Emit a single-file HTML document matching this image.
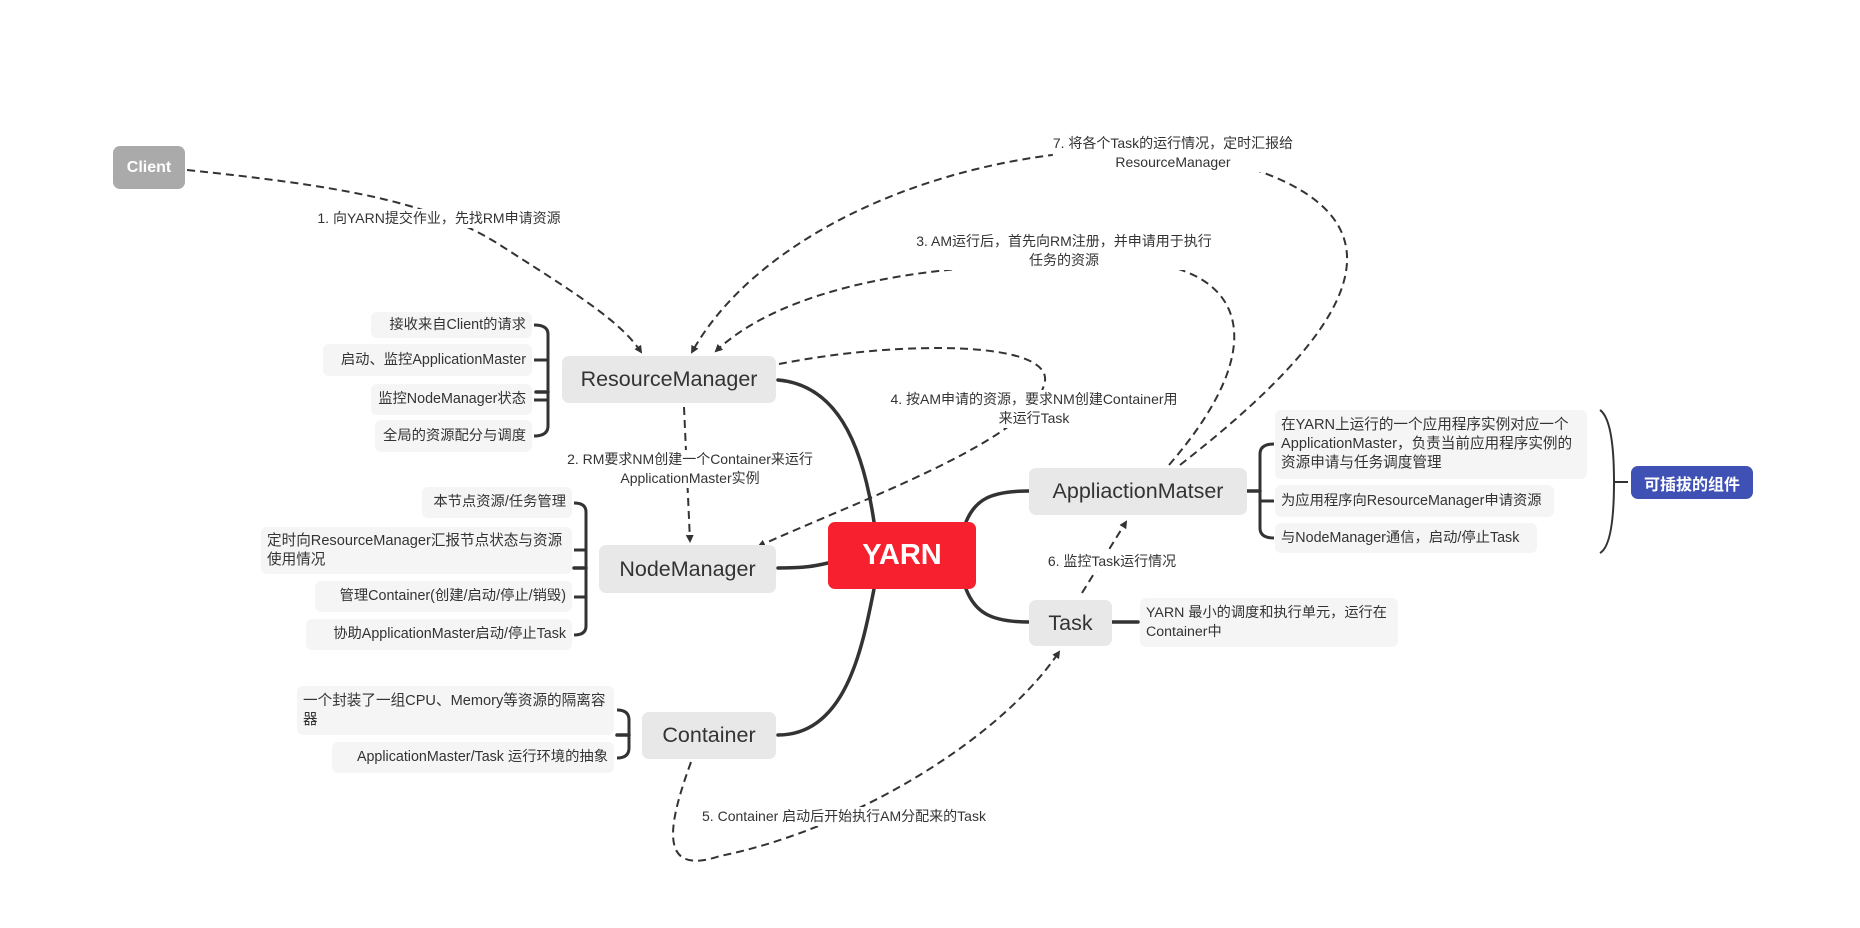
<!DOCTYPE html>
<html><head><meta charset="utf-8"><style>
*{margin:0;padding:0;box-sizing:border-box}
body{width:1860px;height:928px;background:#fff;position:relative;overflow:hidden;font-family:"Liberation Sans","Noto Sans CJK SC",sans-serif;color:#333}
.n{position:absolute;background:#e8e8e8;border-radius:7px;display:flex;align-items:center;justify-content:center;font-size:21.5px;color:#333}
.d{position:absolute;background:#f5f5f5;border-radius:6px;font-size:14.6px;line-height:19px;padding:4px 6px;color:#333;display:flex;align-items:center}
.s{white-space:nowrap;justify-content:flex-end;font-size:14.3px}
.l{position:absolute;font-size:14px;line-height:19px;text-align:center;background:#fff;color:#333;white-space:nowrap;transform:translateX(-50%)}
</style></head><body>
<svg width="1860" height="928" style="position:absolute;left:0;top:0">
<defs><marker id="a" markerWidth="8" markerHeight="8" refX="6" refY="4" orient="auto" markerUnits="userSpaceOnUse"><path d="M0,0 L8,4 L0,8 Z" fill="#333"/></marker></defs>
<g fill="none" stroke="#333" stroke-width="3.5" stroke-linecap="round">
<path d="M778,380 C835,385 862,440 874,522"/>
<path d="M778,568 C805,568 815,566 828,563"/>
<path d="M778,735 C845,735 862,650 874,589"/>
<path d="M1029,491 C990,491 975,500 966,522"/>
<path d="M1029,622 C990,622 975,612 966,589"/>
<path d="M1112,622 L1138,622"/>
<path d="M1247,491 L1260,491"/>
<path d="M548,392 L536,392"/><path d="M586,568 L574,568"/><path d="M629,735 L617,735"/>
</g>
<g fill="none" stroke="#333" stroke-width="3">
<path d="M534,325 Q548,325 548,334 L548,426 Q548,436 534,436"/>
<path d="M534,360 L548,360"/><path d="M534,400 L548,400"/>
<path d="M574,503 Q586,503 586,512 L586,626 Q586,635 574,635"/>
<path d="M574,550 L586,550"/><path d="M574,597 L586,597"/>
<path d="M617,710 Q629,710 629,720 L629,748 Q629,758 617,758"/>
<path d="M1274,444 Q1260,444 1260,454 L1260,528 Q1260,538 1274,538"/>
<path d="M1260,501 L1274,501"/>
</g>
<path d="M1600,410 Q1614,420 1614,482 Q1614,545 1600,553 M1614,482 L1628,482" fill="none" stroke="#333" stroke-width="2"/>
<g fill="none" stroke="#333" stroke-width="2" stroke-dasharray="8,5" marker-end="url(#a)">
<path d="M187,170 C330,185 430,200 500,245 C570,290 620,320 641,352"/>
<path d="M1180,465 C1340,340 1460,200 1175,150 C960,140 760,230 692,352"/>
<path d="M1169,465 C1260,360 1250,290 1175,268 C900,250 770,300 716,351"/>
<path d="M779,364 C900,340 1060,340 1044,385 C1030,440 860,500 759,546"/>
<path d="M684,407 L690,541"/>
<path d="M1082,593 L1126,522"/>
<path d="M691,762 C670,820 655,878 720,856 C850,830 1000,740 1059,652"/>
</g>
</svg>
<div class="n" style="left:113px;top:146px;width:72px;height:43px;background:#aaa;color:#fff;font-weight:bold;font-size:16px">Client</div>
<div class="n" style="left:562px;top:356px;width:214px;height:47px">ResourceManager</div>
<div class="n" style="left:599px;top:545px;width:177px;height:48px">NodeManager</div>
<div class="n" style="left:642px;top:712px;width:134px;height:47px">Container</div>
<div class="n" style="left:828px;top:522px;width:148px;height:67px;background:#f7202e;color:#fff;font-weight:bold;font-size:29px">YARN</div>
<div class="n" style="left:1029px;top:468px;width:218px;height:47px">AppliactionMatser</div>
<div class="n" style="left:1029px;top:600px;width:83px;height:46px">Task</div>
<div class="n" style="left:1631px;top:466px;width:122px;height:33px;background:#3f51b5;color:#fff;font-weight:bold;font-size:16px">可插拔的组件</div>
<div class="d" style="left:1140px;top:598px;width:258px;height:49px;font-size:14.2px">YARN 最小的调度和执行单元，运行在Container中</div>
<div class="d" style="left:1275px;top:410px;width:312px;height:69px">在YARN上运行的一个应用程序实例对应一个ApplicationMaster，负责当前应用程序实例的资源申请与任务调度管理</div>
<div class="d s" style="left:1275px;top:485px;width:279px;height:32px;justify-content:flex-start">为应用程序向ResourceManager申请资源</div>
<div class="d s" style="left:1275px;top:523px;width:262px;height:30px;justify-content:flex-start">与NodeManager通信，启动/停止Task</div>
<div class="d s" style="left:371px;top:312px;width:161px;height:26px">接收来自Client的请求</div>
<div class="d s" style="left:323px;top:344px;width:209px;height:32px">启动、监控ApplicationMaster</div>
<div class="d s" style="left:371px;top:384px;width:161px;height:31px">监控NodeManager状态</div>
<div class="d s" style="left:375px;top:420px;width:157px;height:32px">全局的资源配分与调度</div>
<div class="d s" style="left:422px;top:487px;width:150px;height:31px">本节点资源/任务管理</div>
<div class="d" style="left:261px;top:527px;width:311px;height:47px">定时向ResourceManager汇报节点状态与资源使用情况</div>
<div class="d s" style="left:315px;top:581px;width:257px;height:31px">管理Container(创建/启动/停止/销毁)</div>
<div class="d s" style="left:306px;top:619px;width:266px;height:31px">协助ApplicationMaster启动/停止Task</div>
<div class="d" style="left:297px;top:686px;width:317px;height:49px">一个封装了一组CPU、Memory等资源的隔离容器</div>
<div class="d s" style="left:332px;top:742px;width:282px;height:31px">ApplicationMaster/Task 运行环境的抽象</div>
<div class="l" style="left:439px;top:209px">1. 向YARN提交作业，先找RM申请资源</div>
<div class="l" style="left:1173px;top:134px">7. 将各个Task的运行情况，定时汇报给<br>ResourceManager</div>
<div class="l" style="left:1064px;top:232px">3. AM运行后，首先向RM注册，并申请用于执行<br>任务的资源</div>
<div class="l" style="left:1034px;top:390px">4. 按AM申请的资源，要求NM创建Container用<br>来运行Task</div>
<div class="l" style="left:690px;top:450px">2. RM要求NM创建一个Container来运行<br>ApplicationMaster实例</div>
<div class="l" style="left:1112px;top:552px">6. 监控Task运行情况</div>
<div class="l" style="left:844px;top:807px">5. Container 启动后开始执行AM分配来的Task</div>
</body></html>
